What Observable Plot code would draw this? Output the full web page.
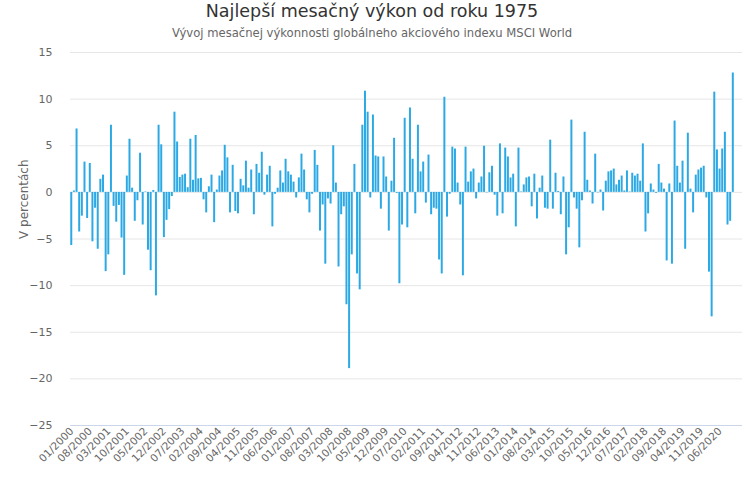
<!DOCTYPE html>
<html>
<head>
<meta charset="utf-8">
<script src="https://cdn.jsdelivr.net/npm/d3@7"></script>
<script src="https://cdn.jsdelivr.net/npm/@observablehq/plot@0.6"></script>
<style>
  body { margin: 0; background: #fff; font-family: "DejaVu Sans", sans-serif; }
  #wrap { width: 744px; height: 500px; overflow: hidden; }
  #title { height: 23px; line-height: 22px; text-align: center; font-size: 17.5px; color: #333; }
  #subtitle { height: 21px; line-height: 20px; text-align: center; font-size: 11.6px; color: #666; }
</style>
</head>
<body>
<div id="wrap">
  <div id="title">Najlepší mesačný výkon od roku 1975</div>
  <div id="subtitle">Vývoj mesačnej výkonnosti globálneho akciového indexu MSCI World</div>
  <div id="chart"></div>
</div>
<script>
// Monthly returns (%) of MSCI World, 01/2000 – 11/2020
const values = [
  -5.7, 0.15, 6.8, -4.25, -2.55, 3.25, -2.8, 3.1, -5.3, -1.7, -6.1, 1.4,
  1.85, -8.5, -6.7, 7.2, -1.5, -3.2, -1.4, -4.9, -8.9, 1.75, 5.7, 0.45,
  -3.1, -0.9, 4.2, -3.5, 0.05, -6.2, -8.4, 0.2, -11.1, 7.2, 5.1, -4.85,
  -3.0, -1.85, -0.45, 8.6, 5.4, 1.6, 1.85, 1.95, 0.5, 5.7, 1.3, 6.1,
  1.45, 1.5, -0.8, -2.2, 0.6, 1.85, -3.25, 0.25, 1.75, 2.3, 5.05, 3.7,
  -2.2, 2.9, -2.05, -2.3, 1.4, 0.7, 3.35, 0.45, 2.4, -2.4, 3.0, 2.05,
  4.3, -0.3, 1.85, 2.8, -3.7, -0.2, 0.45, 2.3, 1.0, 3.55, 2.2, 1.85,
  1.1, -0.6, 1.55, 4.1, 2.4, -0.8, -2.2, -0.2, 4.5, 2.9, -4.15, -1.35,
  -7.7, -0.7, -1.25, 5.0, 1.0, -8.0, -2.4, -1.55, -12.05, -18.9, -6.7, 3.0,
  -8.75, -10.45, 7.2, 10.85, 8.6, -0.6, 8.3, 3.9, 3.8, -1.8, 3.8, 1.65,
  -4.15, 1.2, 5.8, -0.1, -9.8, -3.5, 7.95, -3.8, 9.05, 3.55, -2.3, 7.2,
  2.2, 3.25, -1.15, 4.0, -2.4, -1.7, -1.8, -7.25, -8.75, 10.2, -2.65, -0.2,
  4.85, 4.65, 1.0, -1.35, -8.95, 4.85, 1.1, 2.2, 2.5, -0.7, 1.0, 1.65,
  4.95, -0.05, 2.1, 2.8, -0.3, -2.55, 5.2, -2.3, 4.75, 3.8, 1.55, 1.95,
  -3.7, 4.75, 0.05, 0.8, 1.55, 1.65, -1.55, 1.95, -2.85, 0.45, 1.75, -1.7,
  -1.8, 5.6, -1.8, 2.05, 0.1, -2.4, 1.65, -6.7, -3.8, 7.75, -0.6, -1.8,
  -5.95, -0.9, 6.45, 1.3, 0.15, -1.25, 4.1, -0.05, 0.25, -2.0, 1.2, 2.2,
  2.3, 2.5, 0.8, 1.3, 1.75, 0.15, 2.3, 0.05, 2.05, 1.75, 1.95, 1.2,
  5.2, -4.25, -2.3, 0.9, 0.25, -0.1, 3.0, 1.0, 0.35, -7.35, 0.9, -7.7,
  7.65, 2.8, 1.0, 3.35, -6.1, 6.35, 0.35, -2.2, 1.85, 2.4, 2.6, 2.8,
  -0.6, -8.55, -13.35, 10.75, 4.55, 2.5, 4.65, 6.45, -3.5, -3.1, 12.8
];

// Tick labels shown on the x axis
const xTickLabels = [
  "01/2000","08/2000","03/2001","10/2001","05/2002","12/2002","07/2003","02/2004",
  "09/2004","04/2005","11/2005","06/2006","01/2007","08/2007","03/2008","10/2008",
  "05/2009","12/2009","07/2010","02/2011","09/2011","04/2012","11/2012","06/2013",
  "01/2014","08/2014","03/2015","10/2015","05/2016","12/2016","07/2017","02/2018",
  "09/2018","04/2019","11/2019","06/2020"
];

const yTicks = [-25, -20, -15, -10, -5, 0, 5, 10, 15];

// Month categories (axis slots run a little past the last data month)
const months = [];
for (let i = 0; i < 254; i++) {
  const y = 2000 + Math.floor(i / 12), m = (i % 12) + 1;
  months.push(String(m).padStart(2, "0") + "/" + y);
}
const data = values.map((v, i) => ({month: months[i], value: v}));

const chart = Plot.plot({
  width: 744,
  height: 456,
  marginTop: 8,
  marginBottom: 75,
  marginLeft: 70,
  marginRight: 2,
  style: {fontFamily: "'DejaVu Sans', sans-serif", background: "#fff"},
  x: {type: "band", domain: months, padding: 0.25, paddingOuter: 0.1, round: false, axis: null},
  y: {domain: [-25, 15], axis: null},
  marks: [
    Plot.gridY(yTicks, {stroke: "#e6e6e6", strokeOpacity: 1}),
    Plot.ruleY([-25], {stroke: "#ccd6eb", strokeOpacity: 1}),
    Plot.barY(data, {x: "month", y: "value", fill: "#2ca9e4"}),
    Plot.axisY(yTicks, {tickSize: 0, tickPadding: 18, fontSize: 11, fill: "#666", label: null}),
    Plot.axisX(xTickLabels, {tickSize: 0, tickPadding: 4, tickRotate: -45, fontSize: 10.5, fill: "#666", label: null}),
    Plot.text(["V percentách"], {frameAnchor: "left", dx: -46, rotate: -90, fontSize: 12, fill: "#666"})
  ]
});
document.getElementById("chart").appendChild(chart);
</script>
</body>
</html>
